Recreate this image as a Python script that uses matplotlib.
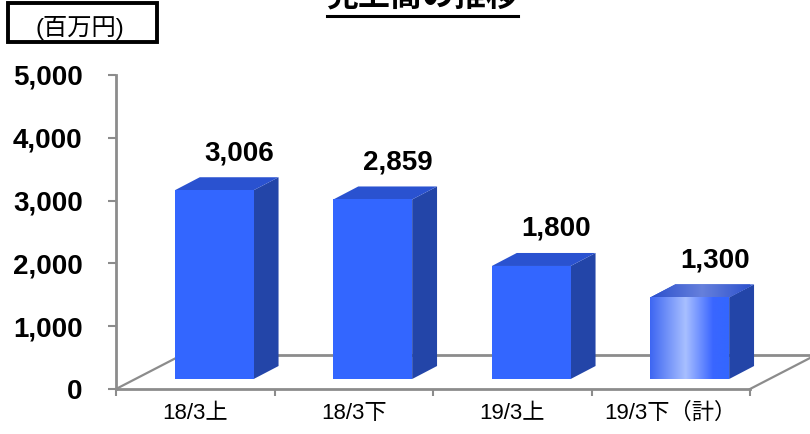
import numpy as np
import matplotlib.pyplot as plt
from matplotlib.patches import Polygon, Rectangle
from matplotlib.colors import LinearSegmentedColormap
from matplotlib.lines import Line2D

plt.rcParams['font.family'] = ['Liberation Sans', 'Noto Sans CJK JP', 'DejaVu Sans']

# data
categories = ["18/3上", "18/3下", "19/3上", "19/3下（計）"]
sales = [3006, 2859, 1800, 1300]
value_labels = ["3,006", "2,859", "1,800", "1,300"]
y_ticks = [0, 1000, 2000, 3000, 4000, 5000]
y_ticklabels = ["0", "1,000", "2,000", "3,000", "4,000", "5,000"]
title = "売上高の推移"
unit = "(百万円)"

# pseudo 3D geometry (category units / value units)
FLOOR_DX, FLOOR_DY = 0.415, 541
SHIFT_X, SHIFT_Y = 0.12, 159
BAR_W = 0.497
BAR_DX, BAR_DY = 0.157, 207

FRONT = "#3366ff"
SIDE = "#2345a8"
TOP = "#2a52d0"
GREY = "#8c8c8c"

W, H = 810, 434
fig = plt.figure(figsize=(8.1, 4.34), dpi=100)
ax = fig.add_axes([116 / W, (H - 389) / H, (750 - 116) / W, (389 - 75) / H])
ax.set_xlim(-0.5, len(categories) - 0.5)
ax.set_ylim(0, 5000)

# floor
x_l, x_r = -0.5, len(categories) - 0.5
ax.add_patch(Polygon([(x_l, 0), (x_r, 0), (x_r + FLOOR_DX, FLOOR_DY), (x_l + FLOOR_DX, FLOOR_DY)],
                     closed=True, facecolor="white", edgecolor="none", zorder=0, clip_on=False))
ax.plot([x_l + FLOOR_DX, x_r + FLOOR_DX], [FLOOR_DY, FLOOR_DY], color=GREY, lw=2, zorder=1, clip_on=False)
ax.plot([x_l, x_l + FLOOR_DX], [0, FLOOR_DY], color=GREY, lw=1.6, zorder=1, clip_on=False)
ax.plot([x_r, x_r + FLOOR_DX], [0, FLOOR_DY], color=GREY, lw=1.6, zorder=1, clip_on=False)

grad_cmap = LinearSegmentedColormap.from_list(
    "barfx", [(0, "#3d66f2"), (0.45, "#a8bfff"), (0.8, "#3a66ff"), (1.0, "#3366ff")])
top_cmap = LinearSegmentedColormap.from_list(
    "topfx", [(0, "#2a4fcc"), (0.5, "#6680dc"), (1.0, "#2a4fcc")])

for i, v in enumerate(sales):
    x0 = i - BAR_W / 2 + SHIFT_X
    y0 = SHIFT_Y
    side = Polygon([(x0 + BAR_W, y0), (x0 + BAR_W + BAR_DX, y0 + BAR_DY),
                    (x0 + BAR_W + BAR_DX, y0 + v + BAR_DY), (x0 + BAR_W, y0 + v)],
                   closed=True, facecolor=SIDE, edgecolor="none", zorder=3, clip_on=False)
    top = Polygon([(x0, y0 + v), (x0 + BAR_W, y0 + v), (x0 + BAR_W + BAR_DX, y0 + v + BAR_DY),
                   (x0 + BAR_DX, y0 + v + BAR_DY)],
                  closed=True, facecolor=TOP, edgecolor="none", zorder=3, clip_on=False)
    front = Rectangle((x0, y0), BAR_W, v, facecolor=FRONT, edgecolor="none", zorder=4, clip_on=False)
    ax.add_patch(side)
    ax.add_patch(top)
    ax.add_patch(front)

    if i == len(sales) - 1:
        # forecast bar gets the glossy gradient
        g = np.linspace(0, 1, 256).reshape(1, -1)
        im = ax.imshow(g, cmap=grad_cmap, aspect="auto", extent=(x0, x0 + BAR_W, y0, y0 + v),
                       zorder=5, interpolation="bilinear")
        im.set_clip_path(front)
        im2 = ax.imshow(g, cmap=top_cmap, aspect="auto",
                        extent=(x0, x0 + BAR_W + BAR_DX, y0 + v, y0 + v + BAR_DY),
                        zorder=3.5, interpolation="bilinear")
        im2.set_clip_path(top)

    ax.annotate(value_labels[i], (x0 + BAR_W / 2 + BAR_DX, y0 + v + BAR_DY),
                xytext=(0, 8), textcoords="offset points", ha="center", va="bottom",
                fontsize=20, fontweight="bold", zorder=6)

ax.set_xlim(-0.5, len(categories) - 0.5)
ax.set_ylim(0, 5000)

# axes styling
for s in ["top", "right"]:
    ax.spines[s].set_visible(False)
for s in ["left", "bottom"]:
    ax.spines[s].set_color(GREY)
    ax.spines[s].set_linewidth(2)
    ax.spines[s].set_zorder(2)

ax.set_yticks(y_ticks)
ax.set_yticklabels(y_ticklabels, fontsize=20, fontweight="bold")
ax.tick_params(axis="y", length=6, width=1.5, color=GREY, pad=18)

ax.set_xticks(range(len(categories)))
ax.set_xticklabels(categories, fontsize=16)
ax.set_xticks(np.arange(-0.5, len(categories), 1.0), minor=True)
ax.tick_params(axis="x", which="major", length=0, pad=10)
ax.tick_params(axis="x", which="minor", length=5, width=1.5, color=GREY)
ax.set_facecolor("none")

# title (runs off the top edge) with underline
fig.text(422 / W, 1 - 13 / H, title, ha="center", va="bottom", fontsize=23, fontweight="bold")
fig.add_artist(Line2D([327 / W, 518 / W], [1 - 16 / H, 1 - 16 / H], color="black", lw=2.2))

# unit box
fig.add_artist(Rectangle((8 / W, 1 - 42 / H), 149 / W, 39 / H, transform=fig.transFigure,
                         facecolor="white", edgecolor="black", lw=2.8))
fig.text(80 / W, 1 - 28 / H, unit, ha="center", va="center", fontsize=17.5)

fig.savefig("out.png", dpi=100)
